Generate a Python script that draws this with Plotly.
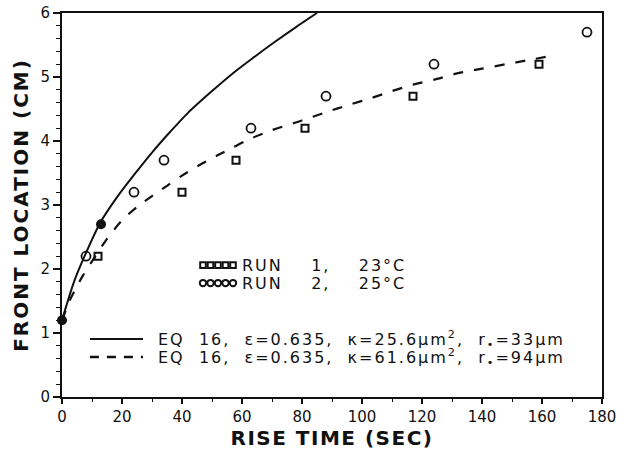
import plotly.graph_objects as go

# ---- data ----
run1_t = [12, 40, 58, 81, 117, 159]
run1_v = [2.2, 3.2, 3.7, 4.2, 4.7, 5.2]
run2_t = [8, 24, 34, 63, 88, 124, 175]
run2_v = [2.2, 3.2, 3.7, 4.2, 4.7, 5.2, 5.7]
both_t = [0, 13]
both_v = [1.2, 2.7]

eq_a_t = [0, 4, 7.7, 12.7, 18, 24, 30, 36, 42, 50, 57, 64, 71, 78, 85]
eq_a_v = [1.2, 1.8, 2.22, 2.72, 3.10, 3.47, 3.82, 4.14, 4.44, 4.78, 5.06, 5.31, 5.55, 5.78, 6.0]

eq_b_t = [0, 3, 7, 10, 15, 20, 25, 30, 35, 40, 46, 52, 57, 62, 70, 80, 88, 96, 103, 110, 117, 125, 132, 140, 148, 155, 162]
eq_b_v = [1.2, 1.55, 1.9, 2.12, 2.47, 2.76, 2.97, 3.14, 3.3, 3.46, 3.63, 3.78, 3.9, 4.02, 4.17, 4.32, 4.45, 4.57, 4.67, 4.78, 4.88, 4.97, 5.06, 5.13, 5.2, 5.26, 5.32]

x_ticks = [0, 20, 40, 60, 80, 100, 120, 140, 160, 180]
y_ticks = [0, 1, 2, 3, 4, 5, 6]

FONT = "DejaVu Sans"
INK = "#111111"

fig = go.Figure()
fig.add_trace(go.Scatter(x=eq_a_t, y=eq_a_v, mode="lines", line=dict(color=INK, width=2, shape="spline", smoothing=0.8)))
fig.add_trace(go.Scatter(x=eq_b_t, y=eq_b_v, mode="lines", line=dict(color=INK, width=2.2, dash="10px,11px", shape="spline", smoothing=0.8)))
fig.add_trace(go.Scatter(x=run1_t, y=run1_v, mode="markers",
                         marker=dict(symbol="square-open", size=7, color=INK, line=dict(width=2, color=INK))))
fig.add_trace(go.Scatter(x=run2_t, y=run2_v, mode="markers",
                         marker=dict(symbol="circle-open", size=9, color=INK, line=dict(width=1.8, color=INK))))
fig.add_trace(go.Scatter(x=both_t, y=both_v, mode="markers",
                         marker=dict(symbol="circle", size=10, color=INK), cliponaxis=False))

# legend keys (decorations)
shapes = []
key_x = [47.0, 49.5, 52.0, 54.5, 57.0]
for kx in key_x:
    shapes.append(dict(type="rect", xref="x", yref="y", xsizemode="pixel", ysizemode="pixel",
                       xanchor=kx, yanchor=2.06, x0=-2.8, x1=2.8, y0=-2.8, y1=2.8,
                       line=dict(color=INK, width=2)))
    shapes.append(dict(type="circle", xref="x", yref="y", xsizemode="pixel", ysizemode="pixel",
                       xanchor=kx, yanchor=1.78, x0=-3.2, x1=3.2, y0=-3.2, y1=3.2,
                       line=dict(color=INK, width=2)))
shapes.append(dict(type="line", xref="x", yref="y", x0=9.3, x1=27, y0=0.906, y1=0.906,
                   line=dict(color=INK, width=2)))
shapes.append(dict(type="line", xref="x", yref="y", x0=9.3, x1=27, y0=0.625, y1=0.625,
                   line=dict(color=INK, width=2.5, dash="9px,8px")))

ann = []
def txt(x, y, s):
    ann.append(dict(x=x, y=y, xref="x", yref="y", text=s, showarrow=False, xanchor="left",
                    yanchor="middle", font=dict(family=FONT, size=16, color=INK)))

# x positions compensate for the centred letter-spacing added below
txt(65.0, 2.06, "RUN    1,    23°C")
txt(65.0, 1.78, "RUN    2,    25°C")
txt(44.0, 0.906, "EQ  16,  ε=0.635,  κ=25.6μm<sup>2</sup>,  r<sub>•</sub>=33μm")
txt(44.0, 0.625, "EQ  16,  ε=0.635,  κ=61.6μm<sup>2</sup>,  r<sub>•</sub>=94μm")

fig.update_layout(
    width=631, height=452,
    margin=dict(l=62, r=29, t=13, b=55, autoexpand=False),
    paper_bgcolor="white", plot_bgcolor="white",
    showlegend=False,
    shapes=shapes, annotations=ann,
    font=dict(family=FONT, color=INK),
)
fig.update_xaxes(range=[0, 180], tickvals=x_ticks, ticktext=[str(v) for v in x_ticks],
                 showgrid=False, zeroline=False, showline=True, linecolor=INK, linewidth=2,
                 mirror=True, ticks="outside", ticklen=5, tickwidth=1.5, tickcolor=INK,
                 minor=dict(dtick=10, ticks="outside", ticklen=3, tickcolor=INK, tickwidth=1),
                 tickfont=dict(family=FONT, size=15, color=INK), automargin=False,
                 title=dict(text="RISE TIME (SEC)", font=dict(family=FONT, size=20, color=INK, weight="bold"), standoff=4))
fig.update_yaxes(range=[0, 6], tickvals=y_ticks, ticktext=[str(v) for v in y_ticks],
                 showgrid=False, zeroline=False, showline=True, linecolor=INK, linewidth=2,
                 mirror=True, ticks="outside", ticklen=7, tickwidth=1.5, tickcolor=INK,
                 minor=dict(dtick=0.2, ticks="outside", ticklen=4, tickcolor=INK, tickwidth=1),
                 tickfont=dict(family=FONT, size=15, color=INK), automargin=False,
                 title=dict(text="FRONT LOCATION (CM)", font=dict(family=FONT, size=20, color=INK, weight="bold"), standoff=6))

post = """
document.body.style.margin='0';
document.querySelectorAll('.annotation-text').forEach(function(e){e.style.letterSpacing='2px';});
document.querySelectorAll('.xtitle').forEach(function(e){e.style.letterSpacing='1.5px';});
document.querySelectorAll('.ytitle').forEach(function(e){e.style.letterSpacing='2px';});
"""
fig.write_html("out.html", post_script=post, config={"displayModeBar": False})
